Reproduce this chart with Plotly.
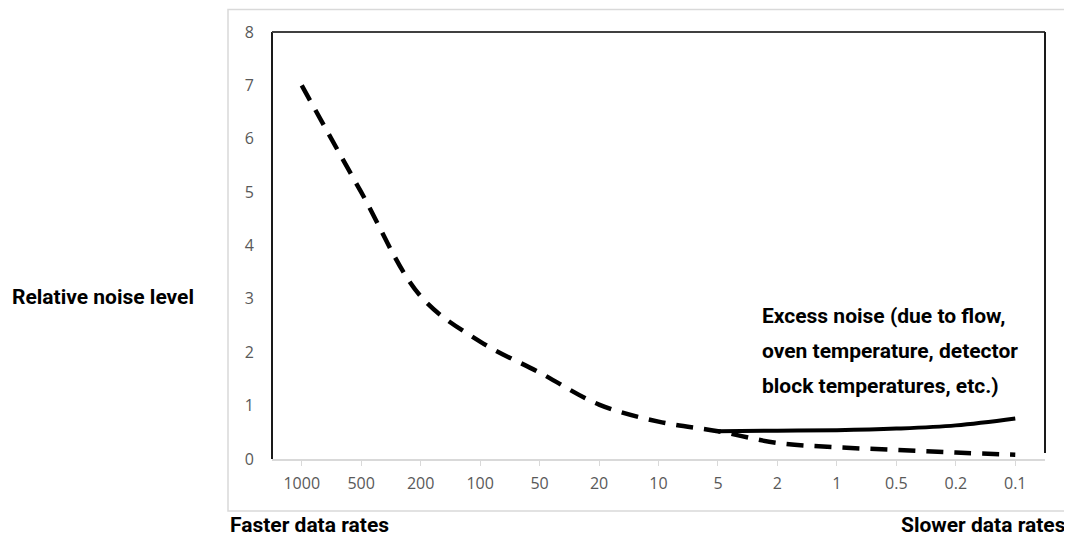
import plotly.graph_objects as go

categories = ["1000", "500", "200", "100", "50", "20", "10", "5", "2", "1", "0.5", "0.2", "0.1"]
dashed_noise = [7.0, 5.0, 3.05, 2.2, 1.62, 1.02, 0.7, 0.52, 0.3, 0.22, 0.17, 0.12, 0.08]
excess_noise = [None, None, None, None, None, None, None, 0.52, 0.53, 0.54, 0.57, 0.63, 0.76]
y_ticks = [0, 1, 2, 3, 4, 5, 6, 7, 8]

BOLD = "Roboto, Liberation Sans, sans-serif"
TICKF = "Open Sans, Liberation Sans, sans-serif"

fig = go.Figure()
fig.add_trace(go.Scatter(x=categories, y=dashed_noise, mode="lines",
                         line=dict(color="black", width=4.5, dash="17px,11px", shape="spline", smoothing=1.0),
                         showlegend=False, hoverinfo="skip"))
fig.add_trace(go.Scatter(x=categories, y=excess_noise, mode="lines",
                         line=dict(color="black", width=4, shape="spline", smoothing=1.0),
                         showlegend=False, hoverinfo="skip", connectgaps=False))

OFF = 8  # page body margin
W, H = 1072 - OFF, 537 - OFF
L, R, T, B = 272, 1045, 32, 459  # plot area in screen pixels
pw, ph = R - L, B - T

def px(x):
    return (x - L) / pw

def py(y):
    return (B - y) / ph

fig.update_layout(
    width=W, height=H,
    margin=dict(l=L - OFF, r=W - (R - OFF), t=T - OFF, b=H - (B - OFF), pad=0),
    plot_bgcolor="white", paper_bgcolor="white",
    xaxis=dict(type="category", range=[-0.5, 12.5], showgrid=False, zeroline=False,
               showline=True, linecolor="#d9d9d9", linewidth=1.5,
               ticks="outside", ticklen=5, tickcolor="#d9d9d9", tickwidth=1,
               tickfont=dict(family=TICKF, size=16, color="#595959"), ticklabelstandoff=4),
    yaxis=dict(range=[0, 8], tickvals=y_ticks, showgrid=False, zeroline=False, showline=False,
               ticks="", tickfont=dict(family=TICKF, size=16, color="#595959"), ticklabelstandoff=17),
    shapes=[
        dict(type="rect", xref="paper", yref="paper", x0=px(228), x1=px(1068), y0=py(511), y1=py(9.5),
             line=dict(color="#d9d9d9", width=1.5), layer="below"),
        dict(type="line", xref="paper", yref="paper", x0=0, x1=0, y0=0, y1=1,
             line=dict(color="#1a1a1a", width=2)),
        dict(type="line", xref="paper", yref="paper", x0=0, x1=1, y0=1, y1=1,
             line=dict(color="#404040", width=2)),
        dict(type="line", xref="paper", yref="paper", x0=1, x1=1, y0=py(453), y1=1,
             line=dict(color="#1a1a1a", width=2)),
    ],
)

bold = dict(family=BOLD, size=21, color="black")
anns = [
    dict(text="<b>Relative noise level</b>", x=px(10), y=py(297), xanchor="left", yanchor="middle"),
    dict(text="<b>Faster data rates</b>", x=px(228), y=py(525), xanchor="left", yanchor="middle"),
    dict(text="<b>Slower data rates</b>", x=px(1068), y=py(525), xanchor="right", yanchor="middle"),
    dict(text="<b>Excess noise (due to flow,</b>", x=px(760), y=py(316), xanchor="left", yanchor="middle"),
    dict(text="<b>oven temperature, detector</b>", x=px(760), y=py(351), xanchor="left", yanchor="middle"),
    dict(text="<b>block temperatures, etc.)</b>", x=px(760), y=py(386), xanchor="left", yanchor="middle"),
]
for a in anns:
    fig.add_annotation(xref="paper", yref="paper", showarrow=False, font=bold, **a)

fig.write_html("out.html")
